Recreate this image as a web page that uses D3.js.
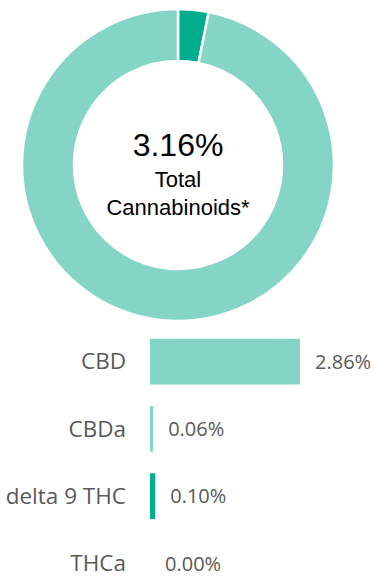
<!DOCTYPE html>
<html>
<head>
<meta charset="utf-8">
<script src="https://cdn.jsdelivr.net/npm/d3@7"></script>
<style>
  body { margin: 0; background: #fff; }
  svg { display: block; }
</style>
</head>
<body>
<svg id="chart"></svg>
<script>
var width = 373;
var height = 577;

// donut data
var totalLabel = "3.16%";
var donutNames = ["Total Cannabinoids", "Other"];
var donutValues = [3.16, 96.84];
var donutColors = ["#00ae8e", "#84d5c6"];

// bar data
var cannabinoids = ["CBD", "CBDa", "delta 9 THC", "THCa"];
var percents = [2.86, 0.06, 0.10, 0.00];
var barColors = ["#84d5c6", "#84d5c6", "#00ae8e", "#84d5c6"];

var svg = d3.select("#chart")
            .attr("width", width)
            .attr("height", height);

// ---- donut ----
var cx = 178, cy = 165;

var pie = d3.pie().sort(null).value(function(d) { return d; });
var arc = d3.arc().innerRadius(104).outerRadius(156);

var donut = svg.append("g")
               .attr("transform", "translate(" + cx + "," + cy + ")");

donut.selectAll(".slice")
     .data(pie(donutValues))
     .enter()
     .append("path")
       .attr("class", "slice")
       .attr("d", arc)
       .attr("fill", function(d, i) { return donutColors[i]; })
       .attr("stroke", "#fff")
       .attr("stroke-width", 2.5);

donut.append("text")
     .attr("text-anchor", "middle")
     .attr("y", -9)
     .attr("font-family", "Liberation Sans, Arial, sans-serif")
     .attr("font-size", 32)
     .attr("fill", "#000")
     .text(totalLabel);

donut.append("text")
     .attr("text-anchor", "middle")
     .attr("y", 22)
     .attr("font-family", "Liberation Sans, Arial, sans-serif")
     .attr("font-size", 22)
     .attr("fill", "#000")
     .text("Total");

donut.append("text")
     .attr("text-anchor", "middle")
     .attr("y", 50)
     .attr("font-family", "Liberation Sans, Arial, sans-serif")
     .attr("font-size", 22)
     .attr("fill", "#000")
     .text("Cannabinoids*");

// ---- bars ----
var barLeft = 150;

var scaleX = d3.scaleLinear()
               .domain([0, d3.max(percents)])
               .range([0, 150]);

var scaleY = d3.scaleBand()
               .domain(cannabinoids)
               .range([328, 597])
               .paddingInner(0.32)
               .paddingOuter(0.16);

var bars = svg.append("g")
              .attr("transform", "translate(" + barLeft + ",0)");

bars.selectAll(".bar")
    .data(cannabinoids)
    .enter()
    .append("rect")
      .attr("class", "bar")
      .attr("x", 0)
      .attr("y", function(d) { return scaleY(d); })
      .attr("width", function(d, i) { return scaleX(percents[i]); })
      .attr("height", scaleY.bandwidth())
      .attr("fill", function(d, i) { return barColors[i]; });

bars.selectAll(".label")
    .data(cannabinoids)
    .enter()
    .append("text")
      .attr("class", "label")
      .attr("x", -24)
      .attr("y", function(d) { return scaleY(d) + scaleY.bandwidth() / 2; })
      .attr("dy", "0.34em")
      .attr("text-anchor", "end")
      .attr("font-family", "Open Sans, sans-serif")
      .attr("font-size", 22.5)
      .attr("fill", "#595959")
      .text(function(d) { return d; });

bars.selectAll(".value")
    .data(cannabinoids)
    .enter()
    .append("text")
      .attr("class", "value")
      .attr("x", function(d, i) { return scaleX(percents[i]) + 15; })
      .attr("y", function(d) { return scaleY(d) + scaleY.bandwidth() / 2; })
      .attr("dy", "0.36em")
      .attr("font-family", "Open Sans, sans-serif")
      .attr("font-size", 20)
      .attr("fill", "#595959")
      .text(function(d, i) { return percents[i].toFixed(2) + "%"; });
</script>
</body>
</html>
